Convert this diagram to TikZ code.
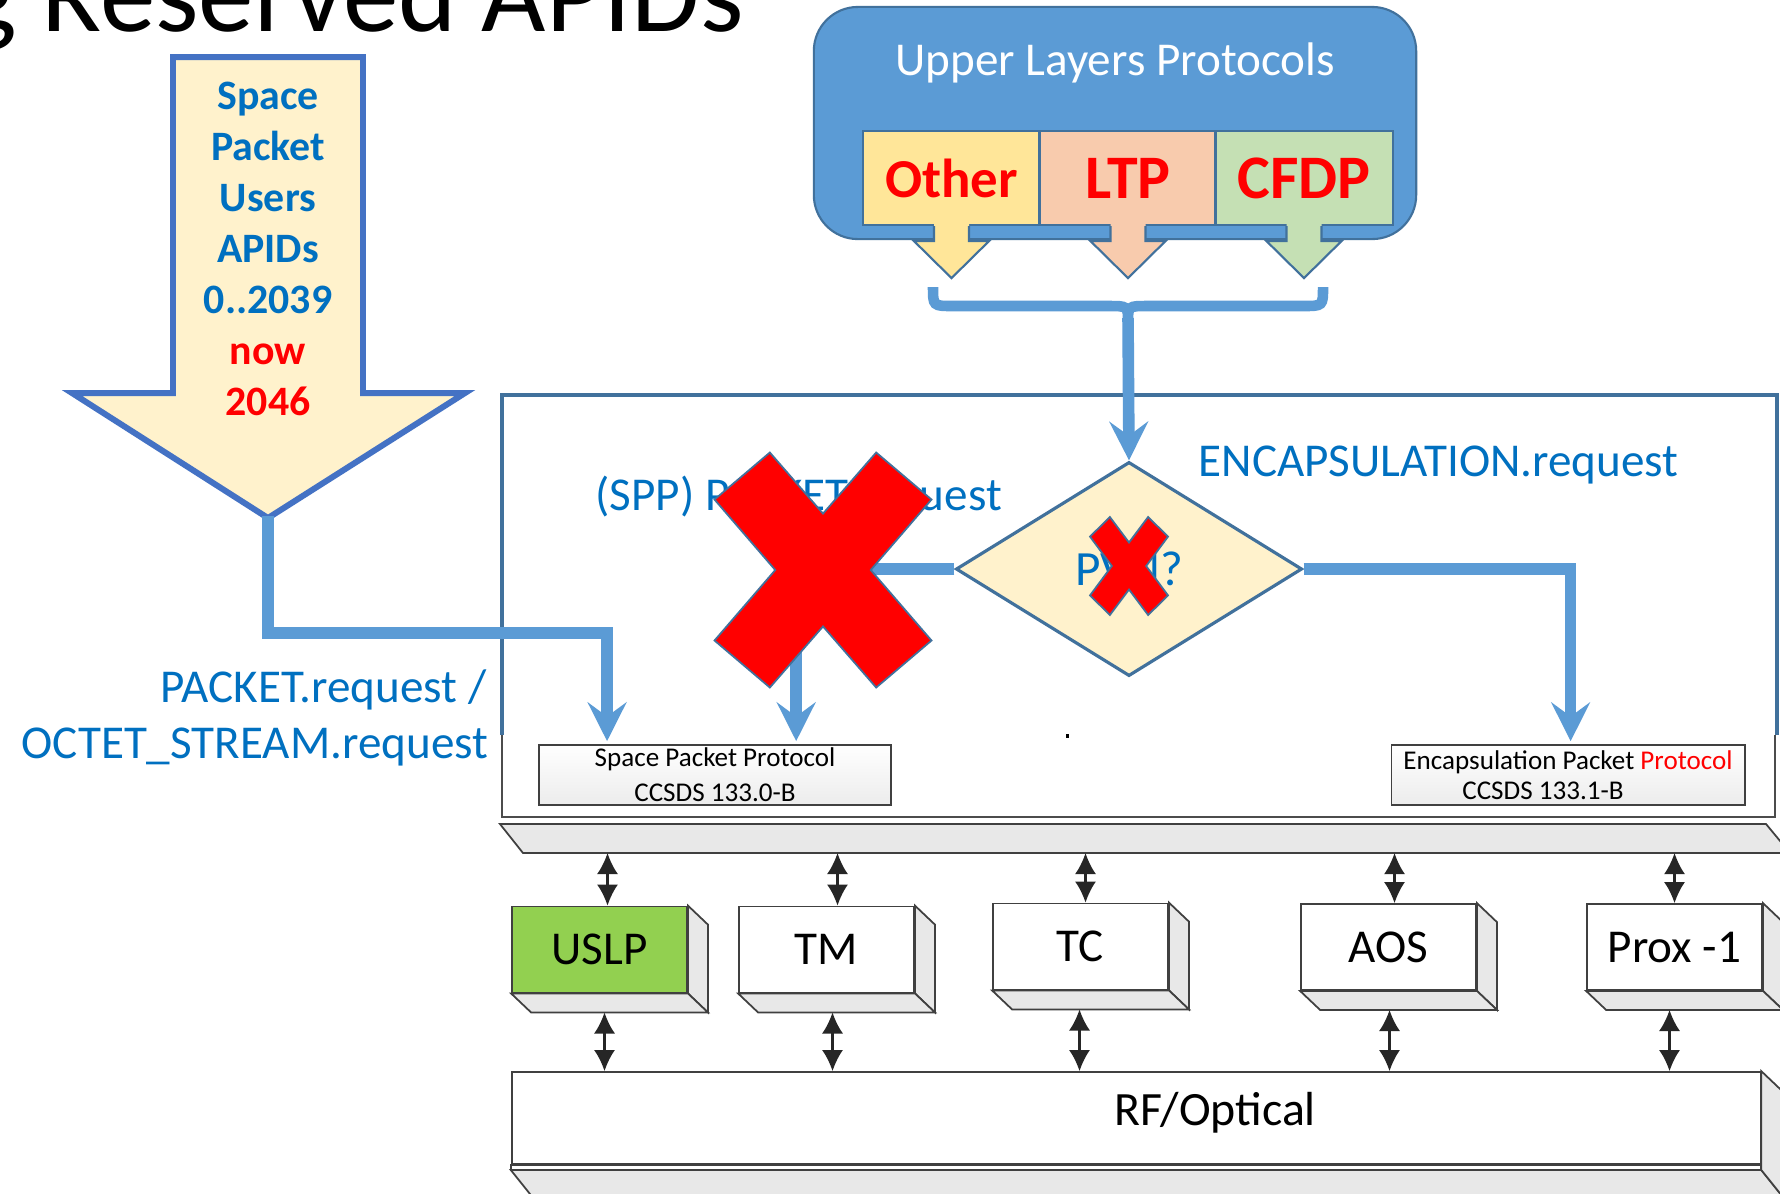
\documentclass[tikz,border=0pt]{standalone}
\usepackage{fontspec}
\setmainfont{Carlito}
\usepackage{xcolor}
\usetikzlibrary{arrows.meta,shapes.geometric}

\definecolor{txtblue}{HTML}{0070C0}
\definecolor{flowblue}{HTML}{5B9BD5}
\definecolor{edgeblue}{HTML}{41719C}
\definecolor{arrowedge}{HTML}{4472C4}
\definecolor{cream}{HTML}{FFF2CC}
\definecolor{otherfill}{HTML}{FFE699}
\definecolor{ltpfill}{HTML}{F8CBAD}
\definecolor{cfdpfill}{HTML}{C5E0B4}
\definecolor{usgreen}{HTML}{92D050}
\definecolor{facegray}{HTML}{E8E8E8}
\definecolor{linegray}{HTML}{404040}

\begin{document}
\begin{tikzpicture}[x=0.01cm, y=-0.01cm,
  flow/.style={draw=flowblue, line width=3.3pt, -{Stealth[length=11pt,width=11pt,inset=4pt]}},
  brc/.style={draw=flowblue, line width=3pt},
  reqtext/.style={text=txtblue, font=\fontsize{13.4}{16}\selectfont, inner sep=0pt},
  ulbox/.style={draw=edgeblue, fill=flowblue, line width=0.6pt, rounded corners=0.44cm, minimum width=6.02cm, minimum height=2.32cm},
  cbox/.style={draw=edgeblue, line width=0.6pt, minimum width=1.77cm, minimum height=0.94cm, text=red, font=\bfseries\fontsize{17.6}{20}\selectfont, inner sep=0pt},
  protobox/.style={draw=linegray, line width=0.5pt, top color=white, bottom color=gray!15, minimum width=3.52cm, minimum height=0.60cm, align=center, font=\fontsize{7.7}{10}\selectfont, inner sep=0pt},
  layerbox/.style={draw=linegray, line width=0.5pt, fill=white, minimum width=1.75cm, minimum height=0.86cm, font=\fontsize{13.4}{16}\selectfont, inner sep=0pt},
  face/.style={draw=linegray, line width=0.5pt, fill=facegray},
  dbl/.style={draw=black!85, line width=0.6pt, {Latex[length=6pt,width=6pt]}-{Latex[length=6pt,width=6pt]}},
  xmark/.style={fill=red, draw=edgeblue, line width=0.5pt}]

\useasboundingbox (0,0) rectangle (1780,1193);
\clip (0,0) rectangle (1780,1193);
\fill[white] (0,0) rectangle (1780,1193);

% slide title, cut at the top
\node[anchor=base east, inner sep=0pt, font=\fontsize{31.6}{36}\selectfont] (title) at (744,31) {g Reserved APIDs};

% user APIDs arrow
\filldraw[draw=arrowedge, fill=cream, line width=1.7pt] (173,57) -- (363,57) -- (363,393) -- (465,393) -- (268,518) -- (72,393) -- (173,393) -- cycle;
\node[align=center, font=\bfseries\fontsize{11.9}{14.5}\selectfont, text=txtblue, inner sep=0pt] (spu_text) at (268,249)
  {Space\\Packet\\Users\\APIDs\\0..2039\\\textcolor{red}{now}\\\textcolor{red}{2046}};
\coordinate (spu_tip) at (268,516);

% upper layers
\node[ulbox] (upper_box) at (1115,123) {};
\node[text=white, font=\fontsize{13.4}{16}\selectfont] (upper_title) at (1115,63) {Upper Layers Protocols};
\node[cbox, fill=otherfill, font=\bfseries\fontsize{15.6}{18}\selectfont] (cb_other) at (951.5,178) {Other};
\node[cbox, fill=ltpfill] (cb_ltp) at (1128,178) {LTP};
\node[cbox, fill=cfdpfill] (cb_cfdp) at (1304,178) {CFDP};

\foreach \b/\c in {cb_other/otherfill, cb_ltp/ltpfill, cb_cfdp/cfdpfill} {
  \fill[\c] ([xshift=-0.175cm,yshift=0.02cm]\b.south) -- ++(0,17) -- ++(-20,0) -- ++(37.5,37) -- ++(37.5,-37) -- ++(-20,0) -- ++(0,-17) -- cycle;
  \draw[edgeblue, line width=0.6pt] ([xshift=-0.175cm]\b.south) -- ++(0,15) -- ++(-20,0) -- ++(37.5,37) -- ++(37.5,-37) -- ++(-20,0) -- ++(0,-15);
}

% brace
\draw[brc] (933,287) .. controls (933,306) .. (953,306) -- (1108,306) .. controls (1128,306) .. (1128,322)
  .. controls (1128,306) .. (1148,306) -- (1303,306) .. controls (1323,306) .. (1323,287);
\coordinate (brace_tip) at (1128,318);

% frame round the packet layer
\draw[draw=gray!60!black, line width=0.5pt] (502,735) -- (502,817) -- (1775,817) -- (1775,735);
\draw[draw=edgeblue, line width=1.1pt] (502,735) -- (502,395) -- (1777,395) -- (1777,735);

\node[diamond, draw=edgeblue, line width=0.9pt, fill=cream, minimum width=3.46cm, minimum height=2.14cm, inner sep=0pt, text=txtblue, font=\fontsize{14}{16}\selectfont] (pvn) at (1129,569) {PVN?};

\node[protobox] (spp) at (715,775) {Space Packet Protocol\\CCSDS 133.0-B};
\node[protobox, minimum width=3.53cm, font=\fontsize{7.7}{8.5}\selectfont] (epp) at (1568,775) {Encapsulation Packet \textcolor{red}{Protocol}\\\hspace*{-0.5cm}CCSDS 133.1-B};
\fill (1066,734) rectangle (1069,738);

\draw[flow] (spu_tip) -- ++(0,117) -| ([xshift=0.69cm,yshift=0.03cm]spp.north west);
\draw[flow] (pvn.west) -| ([xshift=2.58cm,yshift=0.03cm]spp.north west);
\draw[flow] (pvn.east) -| ([xshift=1.80cm,yshift=0.03cm]epp.north west);
\draw[flow] (brace_tip) -- (pvn.north);

\node[reqtext, anchor=base west] (encap_req) at (1198,476) {ENCAPSULATION.request};
\node[reqtext, anchor=base west] (spp_req) at (595,510) {(SPP) PACKET.request};
\node[reqtext, anchor=base east] (pkt_req) at (487,702) {PACKET.request /};
\node[reqtext, anchor=base east] (oct_req) at (489,758) {OCTET\_STREAM.request};

% crosses
\foreach \cx/\cy/\sx/\sy in {823/570/108.5/117.5, 1129/566/39/49}
  \filldraw[xmark, shift={(\cx,\cy)}, xscale=\sx, yscale=\sy] (-0.49,-1) -- (0,-0.48) -- (0.49,-1) -- (1,-0.6) -- (0.44,0) -- (1,0.6)
    -- (0.49,1) -- (0,0.48) -- (-0.49,1) -- (-1,0.6) -- (-0.44,0) -- (-1,-0.6) -- cycle;

% lower layers
\filldraw[face] (500,824) -- (1766,824) -- (1790,853) -- (523,853) -- cycle;
\coordinate (slab_bot) at (0,853);

\node[layerbox, fill=usgreen] (uslp) at (599.5,949.5) {USLP};
\node[layerbox] (tm) at (826.5,949.5) {TM};
\node[layerbox] (tc) at (1080.5,946.5) {TC};
\node[layerbox] (aos) at (1388.5,947) {AOS};
\node[layerbox] (prox) at (1674.5,947) {Prox -1};

\foreach \b in {uslp,tm,tc,aos,prox} {
  \filldraw[face] (\b.north east) -- ([shift={(20,19)}]\b.north east) -- ([shift={(20,19)}]\b.south east) -- (\b.south east) -- cycle;
  \filldraw[face] (\b.south west) -- ([shift={(20,19)}]\b.south west) -- ([shift={(20,19)}]\b.south east) -- (\b.south east) -- cycle;
}

\node[layerbox, minimum width=12.48cm, minimum height=0.92cm] (rf) at (1136,1118) {};
\node[font=\fontsize{13.6}{16}\selectfont, inner sep=0pt] (rf_text) at (1215,1113) {RF/Optical};
\draw[draw=linegray, line width=0.5pt, fill=white] (rf.south west) rectangle ([yshift=-0.05cm]rf.south east);
\filldraw[face] ([yshift=-0.05cm]rf.south west) -- ([shift={(20,30)}]rf.south west) -- ([shift={(20,30)}]rf.south east) -- ([yshift=-0.05cm]rf.south east) -- cycle;
\filldraw[face] (rf.north east) -- ([shift={(20,19)}]rf.north east) -- ([shift={(20,30)}]rf.south east) -- ([yshift=-0.05cm]rf.south east) -- cycle;

\foreach \b/\dt/\db in {uslp/8/5, tm/11/6, tc/5/-1, aos/6/1, prox/0/-5} {
  \draw[dbl] ([xshift=\dt*0.01cm]\b.north |- slab_bot) -- ([xshift=\dt*0.01cm]\b.north);
  \draw[dbl] ([xshift=\db*0.01cm,yshift=-0.19cm]\b.south) -- ([xshift=\db*0.01cm]\b.south |- rf.north);
}

\end{tikzpicture}
\end{document}
